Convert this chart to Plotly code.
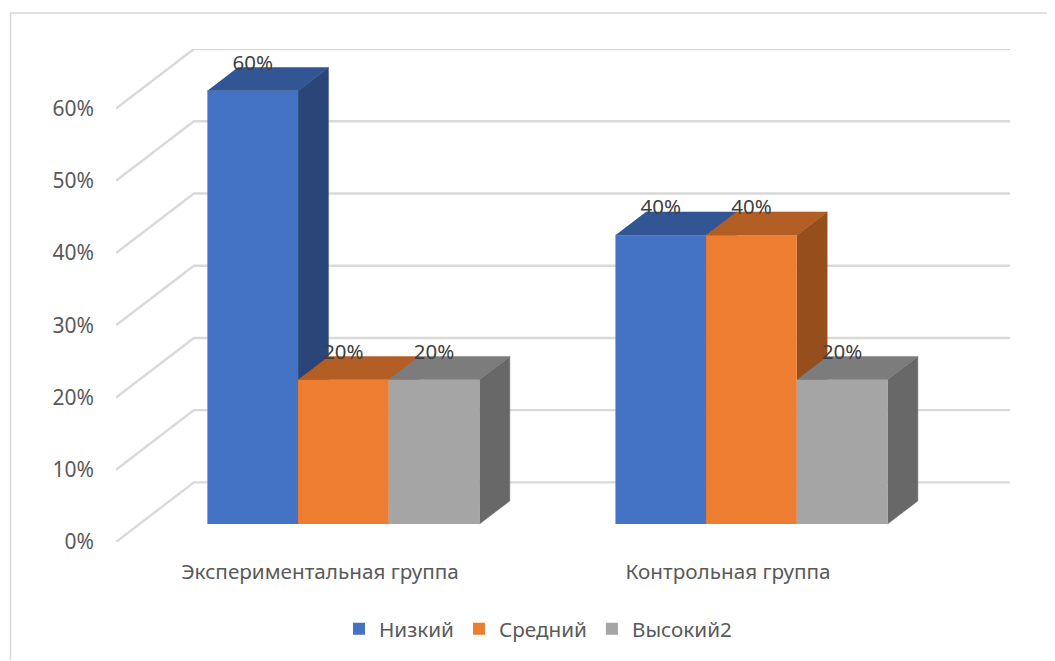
import plotly.graph_objects as go

# Data
categories = ["Экспериментальная группа", "Контрольная группа"]
series_names = ["Низкий", "Средний", "Высокий2"]
low_values = [60, 40]
mid_values = [20, 40]
high_values = [20, 20]
y_ticks = [0, 10, 20, 30, 40, 50, 60]

# Styles
front_colors = ["#4472C4", "#ED7D31", "#A5A5A5"]
top_colors = ["#325694", "#B25E25", "#7C7C7C"]
side_colors = ["#2A4678", "#964E1C", "#686868"]
GRID = "#D9D9D9"
FONT = "Noto Sans"

# Oblique projection of the 3D floor, in axis units
GAP = 1.5                 # gap width, in bar widths
N_SER = len(series_names)
PITCH = N_SER + GAP
DEPTH_X = 0.859           # x shift of the whole floor depth (bar widths)
DEPTH_Y = 8.25            # y shift of the whole floor depth (percent units)
Z_FRONT, Z_BACK = 0.30, 0.69
X_MAX = len(categories) * PITCH + DEPTH_X
Y_MAX = max(y_ticks) + DEPTH_Y


def proj(x, y, z):
    return x + z * DEPTH_X, y + z * DEPTH_Y


fig = go.Figure()

# Back wall and side wall gridlines
for t in y_ticks:
    pts = [proj(0, t, 0), proj(0, t, 1), proj(len(categories) * PITCH, t, 1)]
    fig.add_trace(go.Scatter(x=[p[0] for p in pts], y=[p[1] for p in pts], mode="lines",
                             line=dict(color=GRID, width=2.4), showlegend=False, hoverinfo="skip"))

all_values = [low_values, mid_values, high_values]


def face(corners, color):
    pts = [proj(*c) for c in corners]
    fig.add_trace(go.Scatter(x=[p[0] for p in pts], y=[p[1] for p in pts], mode="lines",
                             fill="toself", fillcolor=color, line=dict(color=color, width=0.5),
                             showlegend=False, hoverinfo="skip"))


# Top and side faces, painted series by series
for c in range(len(categories)):
    for s in range(N_SER):
        v = all_values[s][c]
        x0 = c * PITCH + GAP / 2 + s
        x1 = x0 + 1
        face([(x1, 0, Z_FRONT), (x1, 0, Z_BACK), (x1, v, Z_BACK), (x1, v, Z_FRONT)], side_colors[s])
        face([(x0, v, Z_FRONT), (x1, v, Z_FRONT), (x1, v, Z_BACK), (x0, v, Z_BACK)], top_colors[s])

# Front faces on the overlay axes, so they cover neighbouring side faces
for s in range(N_SER):
    xs = [proj(c * PITCH + GAP / 2 + s + 0.5, 0, Z_FRONT)[0] for c in range(len(categories))]
    fig.add_trace(go.Bar(x=xs, y=all_values[s], base=Z_FRONT * DEPTH_Y, width=1,
                         name=series_names[s], marker=dict(color=front_colors[s], line=dict(width=0)),
                         xaxis="x2", yaxis="y2", hoverinfo="skip"))

# Data labels
lab_x, lab_y, lab_t = [], [], []
for s in range(N_SER):
    for c in range(len(categories)):
        v = all_values[s][c]
        px, py = proj(c * PITCH + GAP / 2 + s + 0.5, v, Z_FRONT)
        lab_x.append(px)
        lab_y.append(py + (Z_BACK - Z_FRONT) * DEPTH_Y + 0.4)
        lab_t.append(f"{v}%")
fig.add_trace(go.Scatter(x=lab_x, y=lab_y, text=lab_t, mode="text", textposition="middle center",
                         textfont=dict(family=FONT, size=20.5, color="#404040"),
                         showlegend=False, hoverinfo="skip", xaxis="x2", yaxis="y2"))

fig.update_layout(
    width=1047, height=653, autosize=False,
    margin=dict(l=107.5, r=44.5, t=40.7, b=116.3, pad=0),
    paper_bgcolor="white", plot_bgcolor="white",
    barmode="overlay",
    font=dict(family=FONT, color="#595959", size=20),
    xaxis=dict(range=[0, X_MAX], showgrid=False, zeroline=False, showline=False,
               tickmode="array", ticks="", ticklabelstandoff=15,
               tickvals=[(c + 0.5) * PITCH for c in range(len(categories))], ticktext=categories,
               tickfont=dict(family=FONT, size=20.7, color="#595959"), fixedrange=True),
    yaxis=dict(range=[0, Y_MAX], showgrid=False, zeroline=False, showline=False,
               tickmode="array", tickvals=y_ticks, ticktext=[f"{t}%" for t in y_ticks],
               ticks="", ticklabelstandoff=21,
               tickfont=dict(family=FONT, size=21, color="#595959"), fixedrange=True),
    xaxis2=dict(range=[0, X_MAX], overlaying="x", visible=False, fixedrange=True),
    yaxis2=dict(range=[0, Y_MAX], overlaying="y", visible=False, fixedrange=True),
    legend=dict(orientation="h", x=0.472, xanchor="center", y=-0.176, yanchor="middle",
                font=dict(family=FONT, size=20.7, color="#595959"), traceorder="normal"),
    shapes=[dict(type="path", xref="paper", yref="paper", layer="below",
                 path="M -0.118,-0.24 L -0.118,1.073 L 1.05,1.073",
                 line=dict(color=GRID, width=1.5))],
)

fig.write_html("out.html")
